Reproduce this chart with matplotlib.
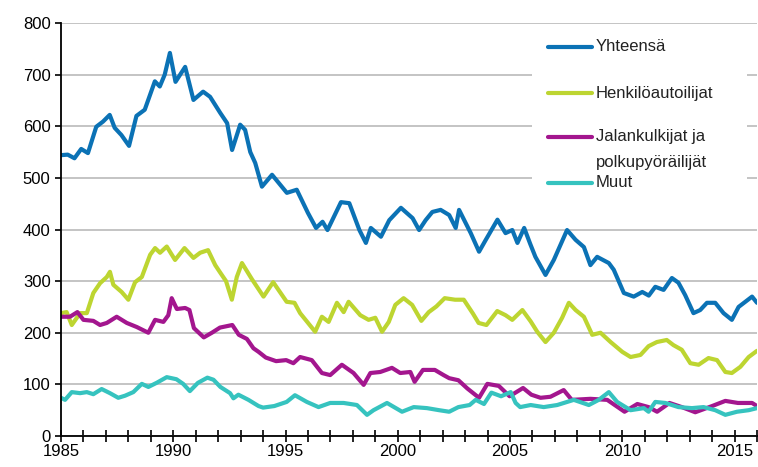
import matplotlib
matplotlib.use("Agg")
import matplotlib.pyplot as plt
from matplotlib.lines import Line2D
from matplotlib.patches import Rectangle

plt.rcParams['font.family'] = ['Liberation Sans', 'DejaVu Sans']

# ---- data ----
yht_years = [1985.0, 1985.3, 1985.6, 1985.9, 1986.2, 1986.57, 1986.87, 1987.17, 1987.39, 1987.69,
             1988.03, 1988.36, 1988.73, 1989.18, 1989.4, 1989.62, 1989.85, 1990.1, 1990.53, 1990.9,
             1991.33, 1991.64, 1992.09, 1992.4, 1992.62, 1992.98, 1993.2, 1993.43, 1993.65, 1993.95,
             1994.4, 1995.06, 1995.5, 1996.0, 1996.36, 1996.65, 1996.87, 1997.47, 1997.84, 1998.29,
             1998.58, 1998.8, 1999.25, 1999.62, 2000.14, 2000.66, 2000.95, 2001.24, 2001.54, 2001.91,
             2002.29, 2002.58, 2002.73, 2003.25, 2003.62, 2003.92, 2004.44, 2004.8, 2005.1, 2005.33,
             2005.63, 2005.9, 2006.13, 2006.58, 2006.95, 2007.54, 2007.92, 2008.29, 2008.58, 2008.88,
             2009.4, 2009.62, 2010.07, 2010.51, 2010.89, 2011.18, 2011.47, 2011.84, 2012.21, 2012.5,
             2012.8, 2013.17, 2013.47, 2013.77, 2014.14, 2014.51, 2014.88, 2015.18, 2015.48, 2015.78,
             2016.0]
yht_values = [544, 545, 538, 556, 548, 599, 609, 622, 597, 583,
              562, 620, 632, 687, 677, 700, 742, 686, 715, 651,
              667, 657, 626, 606, 554, 603, 593, 550, 529, 483,
              506, 471, 477, 432, 403, 415, 399, 453, 451, 399,
              374, 403, 386, 418, 442, 422, 399, 418, 434, 438,
              428, 403, 438, 393, 357, 380, 419, 393, 399, 374,
              403, 372, 347, 312, 341, 399, 380, 366, 331, 347,
              335, 322, 277, 270, 279, 272, 289, 283, 306, 297,
              273, 238, 244, 258, 258, 238, 225, 250, 260, 270,
              258]

hen_years = [1985.0, 1985.25, 1985.48, 1985.85, 1986.15, 1986.44, 1986.74, 1987.04, 1987.18, 1987.33,
             1987.7, 1988.0, 1988.3, 1988.6, 1988.97, 1989.19, 1989.41, 1989.71, 1990.08, 1990.5,
             1990.9, 1991.2, 1991.55, 1991.87, 1992.1, 1992.35, 1992.61, 1992.83, 1993.06, 1993.5,
             1994.02, 1994.45, 1995.05, 1995.4, 1995.65, 1996.32, 1996.62, 1996.92, 1997.29, 1997.59,
             1997.81, 1998.33, 1998.7, 1999.0, 1999.3, 1999.6, 1999.89, 2000.26, 2000.64, 2001.05,
             2001.38, 2001.72, 2002.09, 2002.55, 2002.94, 2003.35, 2003.6, 2003.95, 2004.43, 2004.8,
             2005.1, 2005.55, 2005.92, 2006.21, 2006.58, 2006.95, 2007.32, 2007.62, 2007.92, 2008.29,
             2008.66, 2009.03, 2009.48, 2010.0, 2010.37, 2010.81, 2011.17, 2011.54, 2011.98, 2012.28,
             2012.65, 2013.03, 2013.4, 2013.84, 2014.22, 2014.59, 2014.88, 2015.26, 2015.63, 2016.0]
hen_values = [238, 240, 215, 238, 238, 277, 296, 308, 318, 293,
              279, 264, 298, 308, 351, 364, 355, 367, 341, 364,
              345, 355, 360, 331, 316, 300, 264, 308, 335, 304,
              270, 298, 260, 258, 238, 202, 231, 221, 258, 240,
              260, 234, 225, 229, 202, 221, 254, 267, 254, 223,
              240, 251, 267, 264, 264, 237, 219, 215, 242, 234,
              225, 244, 222, 202, 182, 200, 229, 258, 244, 231,
              196, 200, 182, 163, 153, 157, 174, 182, 186, 176,
              167, 141, 138, 151, 147, 124, 122, 134, 153, 165]

jal_years = [1985.0, 1985.4, 1985.73, 1986.0, 1986.44, 1986.74, 1987.04, 1987.48, 1987.93, 1988.38,
             1988.89, 1989.19, 1989.56, 1989.78, 1989.93, 1990.16, 1990.53, 1990.72, 1990.92, 1991.36,
             1991.72, 1992.08, 1992.63, 1992.92, 1993.28, 1993.57, 1993.8, 1994.12, 1994.58, 1995.03,
             1995.35, 1995.65, 1996.17, 1996.62, 1996.99, 1997.51, 1998.03, 1998.48, 1998.78, 1999.22,
             1999.74, 2000.11, 2000.56, 2000.75, 2001.12, 2001.65, 2002.04, 2002.29, 2002.7, 2003.1,
             2003.62, 2003.99, 2004.5, 2004.98, 2005.58, 2005.95, 2006.36, 2006.8, 2007.39, 2007.75,
             2008.58, 2009.33, 2010.1, 2010.67, 2011.17, 2011.55, 2012.1, 2012.65, 2013.25, 2014.0,
             2014.59, 2015.15, 2015.78, 2016.0]
jal_values = [231, 231, 240, 225, 223, 215, 219, 231, 219, 211,
              200, 225, 221, 234, 267, 246, 248, 244, 209, 191,
              200, 210, 215, 196, 188, 170, 163, 152, 145, 147,
              141, 153, 147, 122, 118, 138, 122, 99, 122, 124,
              132, 122, 124, 105, 128, 128, 118, 112, 108, 92,
              74, 101, 97, 77, 93, 80, 74, 76, 89, 70,
              72, 70, 47, 62, 56, 47, 64, 56, 46, 58,
              68, 64, 64, 58]

muu_years = [1985.0, 1985.18, 1985.48, 1985.85, 1986.15, 1986.44, 1986.81, 1987.18, 1987.55, 1987.85,
             1988.22, 1988.6, 1988.89, 1989.26, 1989.71, 1990.14, 1990.44, 1990.74, 1991.1, 1991.52,
             1991.79, 1992.1, 1992.53, 1992.68, 1992.9, 1993.35, 1993.8, 1994.0, 1994.5, 1995.05,
             1995.42, 1995.95, 1996.47, 1996.99, 1997.59, 1998.18, 1998.63, 1998.92, 1999.52, 2000.19,
             2000.71, 2001.3, 2001.84, 2002.29, 2002.7, 2003.2, 2003.47, 2003.84, 2004.17, 2004.6,
             2005.03, 2005.25, 2005.45, 2005.92, 2006.5, 2007.1, 2007.84, 2008.51, 2008.95, 2009.4,
             2009.77, 2010.37, 2010.96, 2011.17, 2011.47, 2011.92, 2012.5, 2013.1, 2013.62, 2014.14,
             2014.59, 2015.11, 2015.63, 2016.0]
muu_values = [74, 70, 85, 83, 85, 81, 91, 83, 74, 78,
              85, 101, 95, 103, 114, 110, 101, 87, 103, 113,
              109, 95, 83, 73, 80, 70, 58, 55, 58, 66,
              79, 66, 56, 64, 64, 60, 41, 50, 64, 47,
              56, 54, 50, 47, 56, 60, 70, 62, 84, 77,
              85, 64, 56, 60, 56, 60, 70, 60, 70, 85,
              66, 50, 54, 47, 66, 64, 56, 54, 56, 50,
              41, 47, 50, 54]

series_names = ["Yhteensä", "Henkilöautoilijat", "Jalankulkijat ja\npolkupyöräilijät", "Muut"]
series_colors = ["#0b72b5", "#bdd531", "#a3168e", "#36c3bf"]
y_ticks = [0, 100, 200, 300, 400, 500, 600, 700, 800]
x_label_years = [1985, 1990, 1995, 2000, 2005, 2010, 2015]

# ---- figure ----
fig = plt.figure(figsize=(7.58, 4.67), dpi=100)
ax = fig.add_axes([61 / 758, 1 - 436 / 467, 696 / 758, 413 / 467])

data = [(yht_years, yht_values), (hen_years, hen_values),
        (jal_years, jal_values), (muu_years, muu_values)]
for (xs, ys), c in zip(data, series_colors):
    ax.plot(xs, ys, color=c, lw=3.0, solid_joinstyle='round', solid_capstyle='round', zorder=3)

ax.set_xlim(1985, 2016)
ax.set_ylim(0, 800)
ax.set_yticks(y_ticks)
ax.set_yticklabels([str(v) for v in y_ticks])
ax.set_xticks(list(range(1985, 2017)))
ax.set_xticklabels([str(y) if y in x_label_years else "" for y in range(1985, 2017)])

ax.grid(axis='y', color='#c4c4c4', lw=1.4, zorder=0)
ax.set_axisbelow(True)
for s in ['top', 'right']:
    ax.spines[s].set_visible(False)
for s in ['left', 'bottom']:
    ax.spines[s].set_color('black')
    ax.spines[s].set_linewidth(1.3)
    ax.spines[s].set_zorder(4)

ax.tick_params(axis='y', direction='out', length=4.5, width=1.2, labelsize=12, pad=3, colors='black')
ax.tick_params(axis='x', direction='inout', length=9, width=1.2, labelsize=12, pad=1, colors='black')

# ---- legend (drawn manually to match the layout) ----
ax.add_patch(Rectangle((0.677, 0.57), 0.309, 0.415, transform=ax.transAxes,
                       facecolor='white', edgecolor='none', zorder=2))
leg_y = [0.942, 0.8305, 0.724, 0.6126]
for name, c, yy in zip(series_names, series_colors, leg_y):
    ax.add_line(Line2D([0.6997, 0.763], [yy, yy], transform=ax.transAxes, color=c, lw=3.0,
                       solid_capstyle='round', zorder=5))
    lines = name.split("\n")
    for k, t in enumerate(lines):
        ax.text(0.7687, yy - k * 0.0606, t, transform=ax.transAxes, fontsize=12,
                va='center', ha='left', color='#222222', zorder=5)

fig.savefig("out.png", dpi=100)
